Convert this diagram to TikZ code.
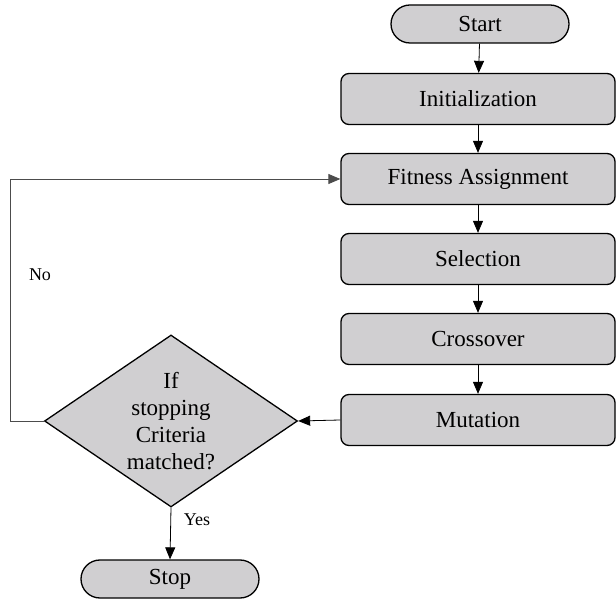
\documentclass[tikz,border=0pt]{standalone}
\usepackage{fontspec}
\setmainfont{Liberation Serif}
\usetikzlibrary{arrows.meta,shapes.geometric}
\definecolor{boxfill}{RGB}{208,207,209}
\begin{document}
\begin{tikzpicture}[x=1pt,y=-1pt,
  procbox/.style={draw=black,line width=1.3pt,fill=boxfill,rounded corners=8pt,
    minimum width=274pt,minimum height=51pt,inner sep=0pt,
    font=\fontsize{23}{27}\selectfont},
  termbox/.style={draw=black,line width=1.3pt,fill=boxfill,rounded corners=19pt,
    minimum width=178pt,minimum height=38pt,inner sep=0pt,
    font=\fontsize{23}{27}\selectfont},
  flow/.style={line width=0.8pt,-{Triangle[width=10pt,length=12pt]}},
  small/.style={font=\fontsize{18}{20}\selectfont,inner sep=0pt}]
\useasboundingbox (0,0) rectangle (616,601);
\node[termbox] (start) at (480,24) {Start};
\node[procbox] (init) at (478,99) {Initialization};
\node[procbox] (fit) at (478,179) {Fitness Assignment};
\node[procbox] (sel) at (478,259) {Selection};
\node[procbox] (cross) at (478,339) {Crossover};
\node[procbox] (mut) at (478,420) {Mutation};
\node[diamond,draw=black,line width=1.3pt,fill=boxfill,inner sep=0pt,
  minimum width=253pt,minimum height=172pt,
  label={[align=center,font=\fontsize{23}{27}\selectfont]center:If\\stopping\\Criteria\\matched?}]
  (dec) at (171,421) {};
\node[termbox] (stop) at (170,579) {Stop};
\coordinate (fb) at (10,179);
\draw[flow] (start) -- (init);
\draw[flow] (init) -- (fit);
\draw[flow] (fit) -- (sel);
\draw[flow] (sel) -- (cross);
\draw[flow] (cross) -- (mut);
\draw[flow] (mut.west) -- (dec.east);
\draw[flow] (dec.south) -- (stop.north);
\draw[flow,draw=black!70] (dec.west) -| (fb) -- (fit.west);
\node[small] (yes) at (197,520) {Yes};
\node[small] (no) at (40,275) {No};
\end{tikzpicture}
\end{document}
